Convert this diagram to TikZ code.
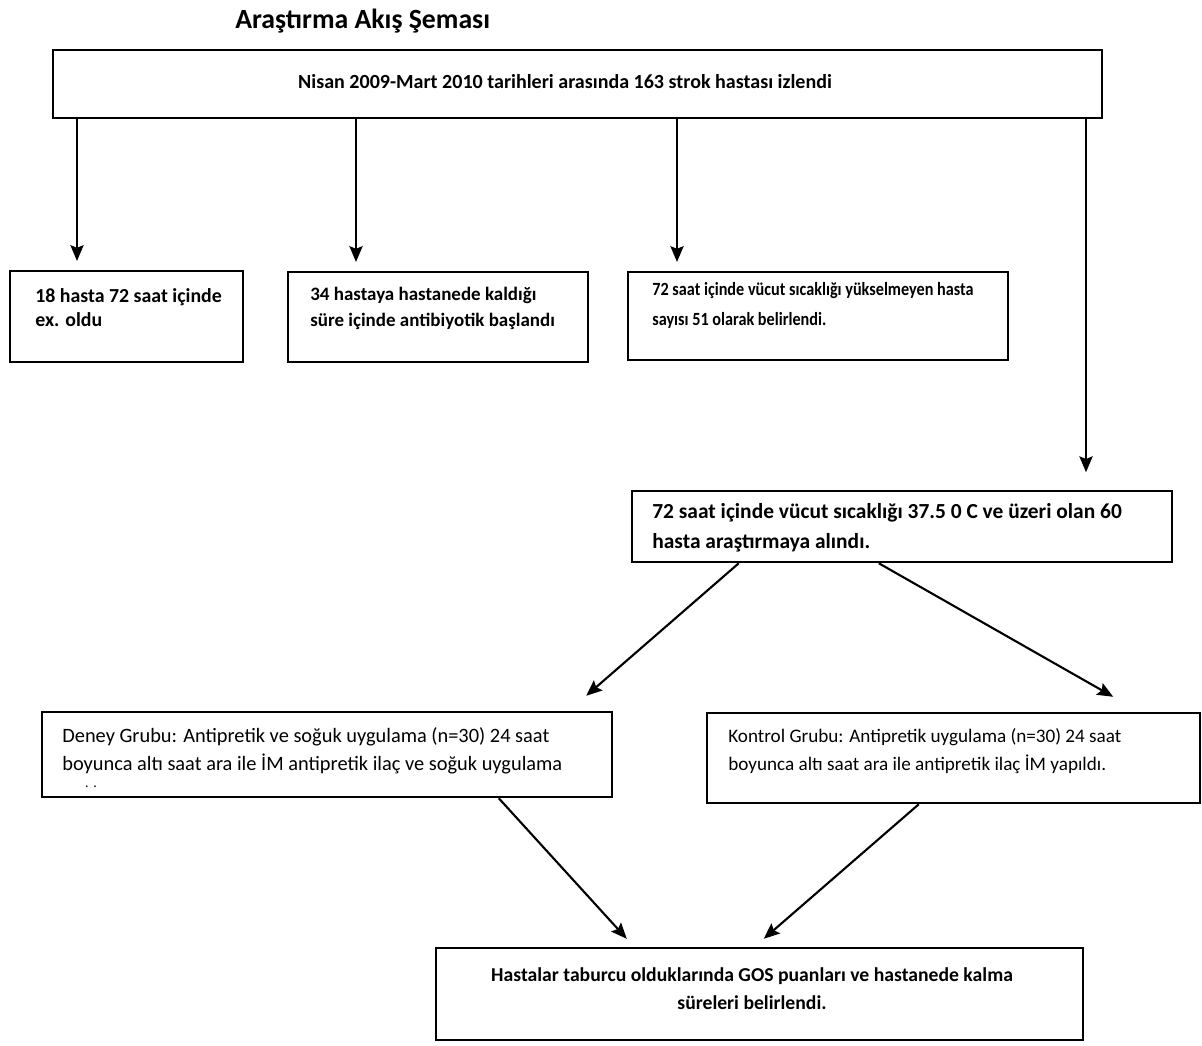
\documentclass[tikz,border=0pt]{standalone}
\usepackage{fontspec}
\setmainfont{Carlito}
\usetikzlibrary{arrows.meta,fit,calc}
\tikzset{
  box/.style={draw=black, line width=1.4pt, inner sep=0pt, fill=none},
  txt/.style={inner sep=0pt, align=left},
  arr/.style={draw=black, line width=1.2pt, -{Stealth[length=9pt,width=7.5pt,inset=1.5pt]}},
}
\begin{document}
\begin{tikzpicture}[x=0.02cm, y=-0.02cm]
\useasboundingbox (0,0) rectangle (1202,1045);
% title
\node[inner sep=0pt, anchor=west, font=\fontsize{15.8}{18}\selectfont\bfseries] (title) at (235,21) {Araştırma Akış Şeması};
% boxes
\node[box, fit={(53,50) (1102,118)}] (top) {};
\node[box, fit={(10,271) (243,362)}] (A) {};
\node[box, fit={(288,272) (588,362)}] (B) {};
\node[box, fit={(628,272) (1008,360)}] (C) {};
\node[box, fit={(632,491) (1172,562)}] (D) {};
\node[box, fit={(42,712) (612,797)}] (E) {};
\node[box, fit={(707,713) (1200,803)}] (F) {};
\node[box, fit={(436,948) (1083,1040)}] (G) {};
% texts
\node[txt, anchor=center, font=\fontsize{11.4}{14}\selectfont\bfseries] (topt) at (565,82) {Nisan 2009-Mart 2010 tarihleri arasında 163 strok hastası izlendi};
\node[txt, anchor=north west, font=\fontsize{11.3}{13.8}\selectfont\bfseries] (At) at (35,288) {18 hasta 72 saat içinde\\ex. oldu};
\node[txt, anchor=north west, font=\fontsize{10.8}{14.8}\selectfont\bfseries] (Bt) at (310,287) {34 hastaya hastanede kaldığı\\süre içinde antibiyotik başlandı};
\node[txt, anchor=north west, font=\fontsize{10.6}{17}\selectfont\bfseries\addfontfeature{FakeStretch=0.87}] (Ct) at (652,282) {72 saat içinde vücut sıcaklığı yükselmeyen hasta\\sayısı 51 olarak belirlendi.};
\node[txt, anchor=north west, font=\fontsize{12.2}{17}\selectfont\bfseries] (Dt) at (652,503) {72 saat içinde vücut sıcaklığı 37.5 0 C ve üzeri olan 60\\hasta araştırmaya alındı.};
\node[txt, anchor=north west, font=\fontsize{11.6}{15.9}\selectfont] (Et) at (62,727) {Deney Grubu: Antipretik ve soğuk uygulama (n=30) 24 saat\\boyunca altı saat ara ile İM antipretik ilaç ve soğuk uygulama};
\node[inner sep=0pt, font=\footnotesize] (Edots) at (91,787) {.\,\,.};
\node[txt, anchor=north west, font=\fontsize{10.9}{15.9}\selectfont] (Ft) at (728,728) {Kontrol Grubu: Antipretik uygulama (n=30) 24 saat\\boyunca altı saat ara ile antipretik ilaç İM yapıldı.};
\node[txt, anchor=north, align=center, font=\fontsize{11.2}{16.4}\selectfont\bfseries] (Gt) at (752,967) {Hastalar taburcu olduklarında GOS puanları ve hastanede kalma\\süreleri belirlendi.};
% connector x positions
\coordinate (x1) at (77,0);
\coordinate (x2) at (356,0);
\coordinate (x3) at (677,0);
\coordinate (x4) at (1086,0);
\draw[arr, shorten >=5pt] (top.south -| x1) -- (A.north -| x1);
\draw[arr, shorten >=5pt] (top.south -| x2) -- (B.north -| x2);
\draw[arr, shorten >=5pt] (top.south -| x3) -- (C.north -| x3);
\draw[arr, shorten >=10pt] (top.south -| x4) -- (D.north -| x4);
\draw[arr] ($(D.south west)+(108,0)$) -- ($(E.north east)+(-27,-15)$);
\draw[arr] ($(D.south west)+(248,0)$) -- ($(F.north east)+(-88,-15)$);
\draw[arr] ($(E.south west)+(458,0)$) -- ($(G.north west)+(192,-8)$);
\draw[arr] ($(F.south west)+(213,0)$) -- ($(G.north west)+(329,-8)$);
\end{tikzpicture}
\end{document}
